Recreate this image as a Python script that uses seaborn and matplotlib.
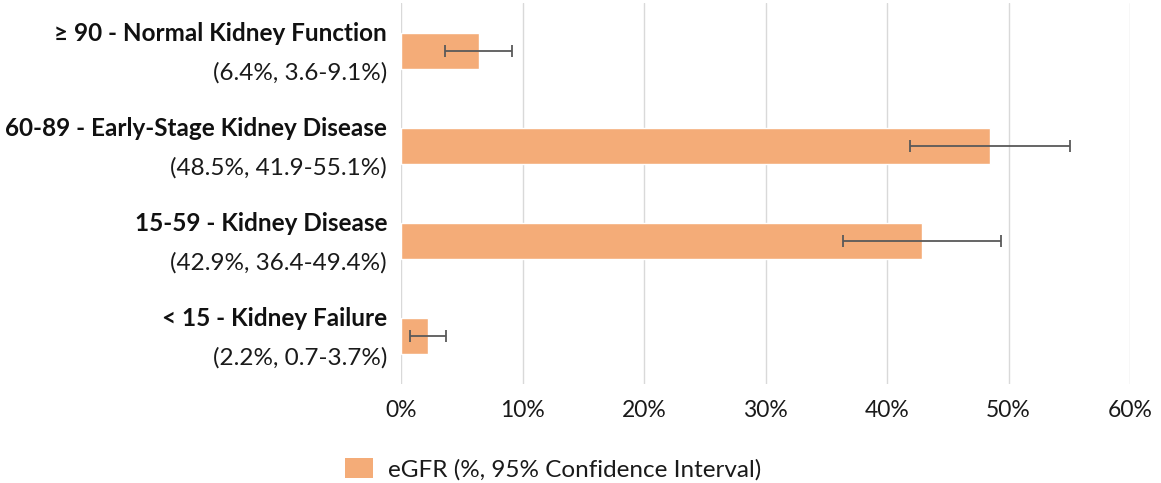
import matplotlib
matplotlib.use("Agg")
import matplotlib.pyplot as plt
import matplotlib.transforms as mtransforms
from matplotlib.patches import Patch
import seaborn as sns
import pandas as pd
import numpy as np

# data
categories = [
    "\u2265 90 - Normal Kidney Function",
    "60-89 - Early-Stage Kidney Disease",
    "15-59 - Kidney Disease",
    "< 15 - Kidney Failure",
]
estimates = [6.4, 48.5, 42.9, 2.2]
ci_low = [3.6, 41.9, 36.4, 0.7]
ci_high = [9.1, 55.1, 49.4, 3.7]
x_ticks = [0, 10, 20, 30, 40, 50, 60]
legend_label = "eGFR (%, 95% Confidence Interval)"

bar_color = "#F4AC78"
err_color = "#595959"
grid_color = "#D9D9D9"

sns.set_style("white")
plt.rcParams["font.family"] = ["Lato", "DejaVu Sans"]

df = pd.DataFrame({"category": categories, "value": estimates})

fig = plt.figure(figsize=(11.61, 4.83), dpi=100)
ax = fig.add_axes([0.3454, 0.206, 0.9733 - 0.3454, 0.9928 - 0.206])

sns.barplot(data=df, x="value", y="category", orient="h", color=bar_color,
            width=0.37, saturation=1, ax=ax)

est = np.array(estimates)
xerr = np.vstack([est - np.array(ci_low), np.array(ci_high) - est])
ax.errorbar(est, np.arange(len(categories)), xerr=xerr, fmt="none",
            ecolor=err_color, elinewidth=1.3, capsize=4.5, capthick=1.3, zorder=3)

ax.set_xlim(0, 60)
ax.set_ylim(len(categories) - 0.5, -0.5)
ax.set_xticks(x_ticks)
ax.set_xticklabels([f"{t}%" for t in x_ticks], fontsize=16.5, color="#1a1a1a")
ax.tick_params(axis="x", length=0, pad=12)
ax.set_xlabel("")
ax.set_ylabel("")
ax.set_yticks([])
ax.grid(axis="x", color=grid_color, linewidth=1)
ax.set_axisbelow(True)
for s in ax.spines.values():
    s.set_visible(False)

# two-line category labels: bold name, then the estimate with its CI
trans = mtransforms.blended_transform_factory(ax.transAxes, ax.transData)
for i, name in enumerate(categories):
    ax.annotate(name, xy=(0, i), xycoords=trans, xytext=(-10, 12.5),
                textcoords="offset points", ha="right", va="center",
                fontsize=17.5, fontweight="bold", color="#111111")
    sub = f"({estimates[i]}%, {ci_low[i]}-{ci_high[i]}%)"
    ax.annotate(sub, xy=(0, i), xycoords=trans, xytext=(-10, -16),
                textcoords="offset points", ha="right", va="center",
                fontsize=17.5, color="#1a1a1a")

handle = Patch(facecolor=bar_color, edgecolor="none")
fig.legend([handle], [legend_label], loc="center left",
           bbox_to_anchor=(345 / 1161, 1 - 469 / 483), frameon=False,
           fontsize=17.5, handlelength=1.15, handleheight=0.92, handletextpad=0.6,
           borderpad=0, borderaxespad=0, labelcolor="#1a1a1a")

fig.savefig("out.png", dpi=100)
